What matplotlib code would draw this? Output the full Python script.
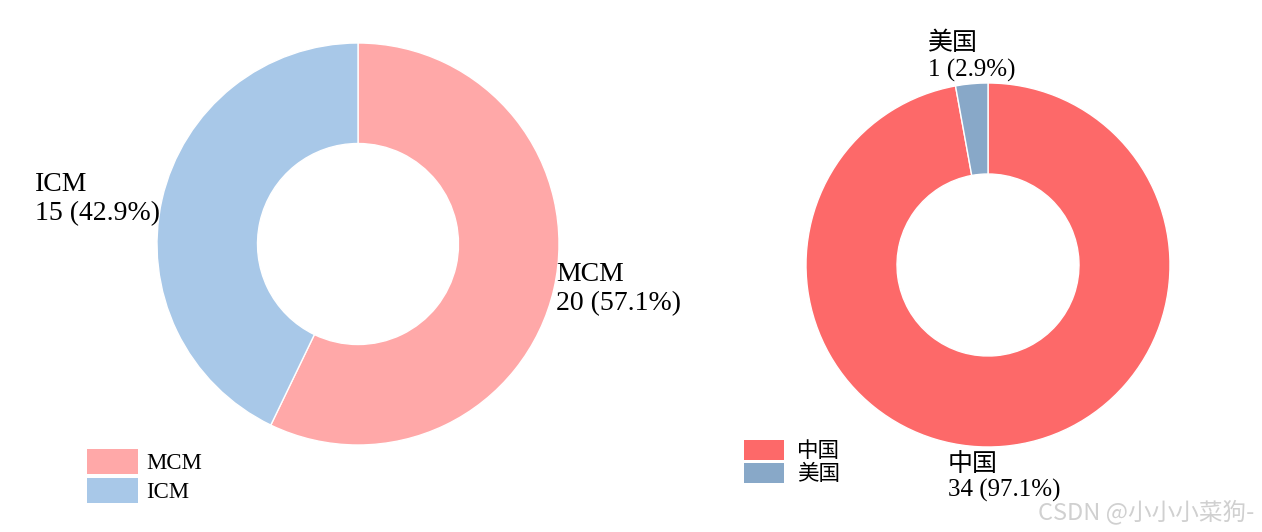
import numpy as np
import matplotlib
matplotlib.use("Agg")
import matplotlib.pyplot as plt

# ---- data ----
left_labels = ["MCM", "ICM"]
left_values = [20, 15]
left_colors = ["#FFA8A8", "#A8C8E8"]

right_labels = ["中国", "美国"]
right_values = [34, 1]
right_colors = ["#FD6969", "#88A8C8"]

W, H = 1262, 532
fig = plt.figure(figsize=(W / 100, H / 100), dpi=100)
fig.patch.set_facecolor("white")

SERIF = ["Liberation Serif", "Noto Sans CJK SC"]
LEG_FONT = ["Liberation Serif", "Noto Sans CJK SC"]


def donut(cx, cy, r, labels, values, colors, fs):
    ax = fig.add_axes([(cx - r) / W, (H - cy - r) / H, 2 * r / W, 2 * r / H])
    wedges, _ = ax.pie(values, colors=colors, startangle=90, counterclock=False,
                       radius=1.0, wedgeprops=dict(width=0.5, edgecolor="white", linewidth=1))
    ax.set_xlim(-1, 1)
    ax.set_ylim(-1, 1)
    ax.set_aspect("equal")
    ax.axis("off")
    total = sum(values)
    for w, lab, v in zip(wedges, labels, values):
        mid = np.deg2rad((w.theta1 + w.theta2) / 2)
        c, s = np.cos(mid), np.sin(mid)
        x, y = c * 1.0, s * 1.0
        txt = f"{lab}\n{v} ({v / total * 100:.1f}%)"
        if abs(c) < 0.3:
            ha = "center"
            va = "bottom" if s > 0 else "top"
            y += (0.01 if s > 0 else -0.035)
        else:
            ha = "left" if c > 0 else "right"
            va = "center"
            x += 0.01 * np.sign(c)
        ax.text(x, y, txt, ha=ha, va=va, multialignment="left", fontsize=fs,
                family=SERIF, linespacing=1.2, clip_on=False)
    return ax, wedges


axL, wL = donut(358, 244, 201, left_labels, left_values, left_colors, 20)
axR, wR = donut(988, 265, 182, right_labels, right_values, right_colors, 18)

# legends
legL = axL.legend(wL, left_labels, loc="upper left",
                  bbox_to_anchor=(87 / W, (H - 449) / H), bbox_transform=fig.transFigure,
                  frameon=False, borderpad=0, borderaxespad=0,
                  handlelength=2.22, handleheight=1.30, handletextpad=0.36,
                  labelspacing=0.17, prop=dict(family=LEG_FONT, size=16.5))
legR = axR.legend(wR, right_labels, loc="upper left",
                  bbox_to_anchor=(744 / W, (H - 440) / H), bbox_transform=fig.transFigure,
                  frameon=False, borderpad=0, borderaxespad=0,
                  handlelength=1.86, handleheight=1.02, handletextpad=0.6,
                  labelspacing=0.05, prop=dict(family=["Noto Sans CJK SC"], size=15.5))
for leg in (legL, legR):
    for p in leg.get_patches():
        p.set_edgecolor("none")

# watermark
fig.text(1038 / W, (H - 512) / H, "CSDN @小小小菜狗-", ha="left", va="center",
         fontsize=17, color="#d0d0d0", family=["Noto Sans CJK SC", "DejaVu Sans"])

fig.savefig("out.png", dpi=100, facecolor="white")
